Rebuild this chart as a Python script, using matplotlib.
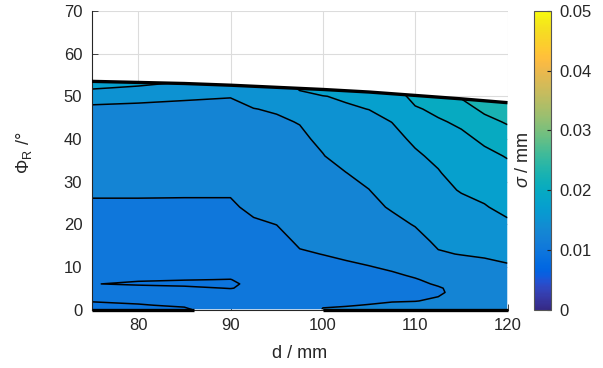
import numpy as np
import matplotlib
matplotlib.use("Agg")
import matplotlib.pyplot as plt
from matplotlib.colors import LinearSegmentedColormap, Normalize
from matplotlib.patches import Polygon
from matplotlib.cm import ScalarMappable

plt.rcParams['font.family'] = ['Liberation Sans', 'DejaVu Sans']
plt.rcParams['mathtext.fontset'] = 'custom'
plt.rcParams['mathtext.rm'] = 'Liberation Sans'
plt.rcParams['mathtext.it'] = 'Liberation Sans:italic'

# ---------------- data ----------------
d_mm = [75, 80, 85, 90, 92.5, 95, 97.5, 100, 102.5, 105, 107.5, 110, 112.5, 115, 117.5, 120]
phi_deg = [0, 1, 2, 4, 5, 6, 7, 8, 10, 13, 16, 20, 24, 28, 32, 36, 40, 44, 47, 50, 52, 54]

# sigma in micrometres, one list per d column (values along phi_deg)
sigma_um_cols = [
    [9.5, 9.8, 10.05, 10.2, 10.15, 10.05, 10.15, 10.25, 10.5, 10.875, 11.25, 11.75, 12.25, 12.725, 13.175, 13.625, 14.075, 14.525, 14.875, 15.25, 17.9, 18.25],
    [9.625, 9.95, 10.125, 10.3, 10.5, 9.8, 10.13, 10.3, 10.55, 10.9, 11.25, 11.75, 12.25, 12.725, 13.175, 13.625, 14.075, 14.5, 14.825, 15.2, 17.0, 19.5],
    [9.875, 10.1, 10.3, 10.4, 10.265, 9.7, 10.04, 10.25, 10.5, 10.875, 11.25, 11.75, 12.25, 12.7, 13.15, 13.6, 14.025, 14.45, 14.75, 15.125, 16.25, 18.0],
    [10.65, 10.65, 10.625, 10.45, 9.95, 9.5, 9.975, 10.225, 10.5, 10.875, 11.25, 11.75, 12.25, 12.7, 13.125, 13.55, 13.95, 14.35, 14.65, 15.05, 15.75, 16.5],
    [10.625, 10.625, 10.625, 10.625, 10.3, 10.75, 10.375, 10.625, 10.75, 11.125, 11.5, 12.25, 12.875, 13.375, 13.8, 14.15, 14.45, 14.75, 14.975, 15.375, 15.875, 16.25],
    [10.75, 10.75, 10.75, 10.75, 10.75, 10.75, 10.8, 10.875, 11.125, 11.5, 11.95, 12.525, 13.125, 13.625, 14.0, 14.3, 14.575, 14.85, 15.1, 15.75, 16.25, 16.5],
    [10.875, 10.875, 10.95, 11.125, 11.25, 11.375, 11.5, 11.625, 11.9, 12.325, 12.75, 13.25, 13.675, 14.0, 14.3, 14.55, 14.775, 15.05, 15.75, 17.0, 17.75, 18.25],
    [12.575, 12.375, 12.125, 11.875, 11.8, 11.75, 11.75, 11.8, 12.05, 12.525, 12.95, 13.45, 13.875, 14.25, 14.55, 14.95, 15.25, 15.875, 16.375, 17.45, 18.25, 18.75],
    [12.7, 12.425, 12.125, 11.8, 11.75, 11.75, 11.8, 11.95, 12.25, 12.75, 13.25, 13.8, 14.25, 14.625, 14.975, 15.5, 16.0, 16.5, 17.3, 17.7, 18.25, 18.75],
    [12.75, 12.55, 12.3, 12.0, 11.95, 11.95, 12.0, 12.125, 12.45, 13.0, 13.5, 14.0, 14.5, 14.975, 15.45, 15.95, 16.45, 17.0, 17.525, 18.125, 18.5, 18.75],
    [12.875, 12.65, 12.45, 12.125, 12.05, 12.05, 12.125, 12.325, 12.7, 13.25, 13.75, 14.45, 15.2, 15.75, 16.25, 16.625, 17.0, 17.525, 18.0, 18.75, 19.5, 20.125],
    [13.0, 12.75, 12.475, 12.25, 12.2, 12.25, 12.425, 12.625, 13.0, 13.625, 14.3, 15.125, 15.75, 16.25, 16.75, 17.25, 17.8, 18.75, 19.75, 20.75, 21.5, 22.0],
    [13.125, 12.875, 12.625, 12.375, 12.4, 12.625, 12.8, 13.0, 13.5, 14.8, 15.375, 16.0, 16.5, 17.0, 17.375, 17.875, 18.75, 19.75, 20.5, 21.125, 21.75, 22.25],
    [13.25, 13.05, 12.875, 12.8, 12.875, 13.0, 13.25, 13.5, 14.0, 15.075, 15.75, 16.375, 16.95, 17.625, 18.25, 18.75, 19.5, 20.375, 21.5, 22.75, 23.25, 23.75],
    [13.375, 13.25, 13.125, 13.2, 13.3, 13.45, 13.625, 13.875, 14.45, 15.25, 16.0, 16.75, 17.375, 18.0, 18.625, 19.5, 20.375, 21.75, 23.0, 23.75, 24.25, 24.75],
    [13.5, 13.45, 13.4, 13.5, 13.625, 13.75, 13.95, 14.2, 14.8, 15.5, 16.25, 17.2, 18.0, 18.75, 19.375, 20.125, 21.25, 22.75, 23.5, 24.25, 24.75, 25.0],
]

# upper limit of the valid region (phi_R max vs d)
boundary_d = [75, 80, 85, 90, 95, 100, 105, 110, 115, 120]
boundary_phi = [53.5, 53.25, 53.0, 52.6, 52.1, 51.6, 51.0, 50.2, 49.4, 48.5]

# contour levels (mm)
contour_levels = [0.010, 0.0125, 0.015, 0.0175, 0.020, 0.0225]
# stretches of the lower edge lying on a contour line
bottom_contour_d = [(75, 86), (100, 120)]

xticks = [80, 90, 100, 110, 120]
yticks = [0, 10, 20, 30, 40, 50, 60, 70]
cbar_ticks = [0, 0.01, 0.02, 0.03, 0.04, 0.05]
cbar_ticklabels = ['0', '0.01', '0.02', '0.03', '0.04', '0.05']

# ---------------- colormap (parula) ----------------
parula = [
 (0.2081,0.1663,0.5292),(0.2116,0.1898,0.5777),(0.2123,0.2138,0.6270),(0.2081,0.2386,0.6771),
 (0.1959,0.2645,0.7279),(0.1707,0.2919,0.7792),(0.1253,0.3242,0.8303),(0.0591,0.3598,0.8683),
 (0.0117,0.3875,0.8820),(0.0060,0.4086,0.8828),(0.0165,0.4266,0.8786),(0.0329,0.4430,0.8720),
 (0.0498,0.4586,0.8641),(0.0629,0.4737,0.8554),(0.0723,0.4887,0.8467),(0.0779,0.5040,0.8384),
 (0.0793,0.5200,0.8312),(0.0749,0.5375,0.8263),(0.0641,0.5570,0.8240),(0.0488,0.5772,0.8228),
 (0.0343,0.5966,0.8199),(0.0265,0.6137,0.8135),(0.0239,0.6287,0.8038),(0.0231,0.6418,0.7913),
 (0.0228,0.6535,0.7768),(0.0267,0.6642,0.7607),(0.0384,0.6743,0.7436),(0.0590,0.6838,0.7254),
 (0.0843,0.6928,0.7062),(0.1133,0.7015,0.6859),(0.1453,0.7098,0.6646),(0.1801,0.7177,0.6424),
 (0.2178,0.7250,0.6193),(0.2586,0.7317,0.5954),(0.3022,0.7376,0.5712),(0.3482,0.7424,0.5473),
 (0.3953,0.7459,0.5244),(0.4420,0.7481,0.5033),(0.4871,0.7491,0.4840),(0.5300,0.7491,0.4661),
 (0.5709,0.7485,0.4494),(0.6099,0.7473,0.4337),(0.6473,0.7456,0.4188),(0.6834,0.7435,0.4044),
 (0.7184,0.7411,0.3905),(0.7525,0.7384,0.3768),(0.7858,0.7356,0.3633),(0.8185,0.7327,0.3498),
 (0.8507,0.7299,0.3360),(0.8824,0.7274,0.3217),(0.9139,0.7258,0.3063),(0.9450,0.7261,0.2886),
 (0.9739,0.7314,0.2666),(0.9938,0.7455,0.2403),(0.9990,0.7653,0.2164),(0.9955,0.7861,0.1967),
 (0.9880,0.8066,0.1794),(0.9789,0.8271,0.1633),(0.9697,0.8481,0.1475),(0.9626,0.8705,0.1309),
 (0.9589,0.8949,0.1132),(0.9598,0.9218,0.0948),(0.9661,0.9514,0.0755),(0.9763,0.9831,0.0538)]
cmap = LinearSegmentedColormap.from_list('parula', parula, N=256)
norm = Normalize(vmin=0, vmax=0.05)

# ---------------- figure ----------------
W, H = 603, 368
fig = plt.figure(figsize=(W / 100, H / 100), dpi=100)
ax = fig.add_axes([92 / W, 1 - 309.5 / H, 415.5 / W, 298.5 / H])

X, Y = np.meshgrid(d_mm, phi_deg)
Z = np.array(sigma_um_cols).T / 1000.0

fill_levels = [Z.min() - 1e-6] + contour_levels + [Z.max() + 1e-6]
band_colors = [cmap(norm(max(v, Z.min()))) for v in fill_levels[:-1]]

clip_poly = Polygon(list(zip([boundary_d[-1], boundary_d[0]] + boundary_d,
                             [0, 0] + boundary_phi)),
                    closed=True, transform=ax.transData, facecolor='none', edgecolor='none')
ax.add_patch(clip_poly)

cf = ax.contourf(X, Y, Z, levels=fill_levels, colors=band_colors, antialiased=True)
cf.set_clip_path(clip_poly)
cl = ax.contour(X, Y, Z, levels=contour_levels, colors='k', linewidths=1.1)
cl.set_clip_path(clip_poly)

ax.plot(boundary_d, boundary_phi, color='k', lw=2.4, solid_capstyle='butt', zorder=4)
for x0, x1 in bottom_contour_d:
    ax.plot([x0, x1], [0, 0], color='k', lw=2.4, solid_capstyle='butt', zorder=4, clip_on=False)

ax.set_xlim(75, 120)
ax.set_ylim(0, 70)
ax.set_xticks(xticks)
ax.set_yticks(yticks)
ax.set_axisbelow(True)
ax.grid(True, color='#dcdcdc', lw=0.8)
for s in ['top', 'right']:
    ax.spines[s].set_visible(False)
for s in ['left', 'bottom']:
    ax.spines[s].set_color('#262626')
    ax.spines[s].set_linewidth(0.8)
ax.tick_params(direction='in', length=4, width=0.6, colors='#262626', labelsize=12,
               labelcolor='#262626')
ax.tick_params(axis='x', pad=6)
ax.tick_params(axis='y', pad=7)

fig.text(300 / W, 1 - 354 / H, 'd / mm', ha='center', va='center', fontsize=13, color='#262626')
fig.text(24 / W, 1 - 153 / H, r'$\Phi_\mathrm{R}$ /°', rotation=90, ha='center', va='center',
         fontsize=13, color='#262626')

# colorbar
cax = fig.add_axes([534 / W, 1 - 309.5 / H, 17 / W, 298.5 / H])
cb = fig.colorbar(ScalarMappable(norm=norm, cmap=cmap), cax=cax)
cb.set_ticks(cbar_ticks)
cb.set_ticklabels(cbar_ticklabels)
cb.outline.set_edgecolor('#555555')
cb.outline.set_linewidth(0.8)
cax.tick_params(direction='in', length=3, width=0.8, colors='#262626', labelsize=12, pad=6)
fig.text(524 / W, 1 - 160 / H, r'$\sigma$ / mm', rotation=90, ha='center', va='center',
         fontsize=13, color='#262626')

fig.savefig('out.png', dpi=100)
